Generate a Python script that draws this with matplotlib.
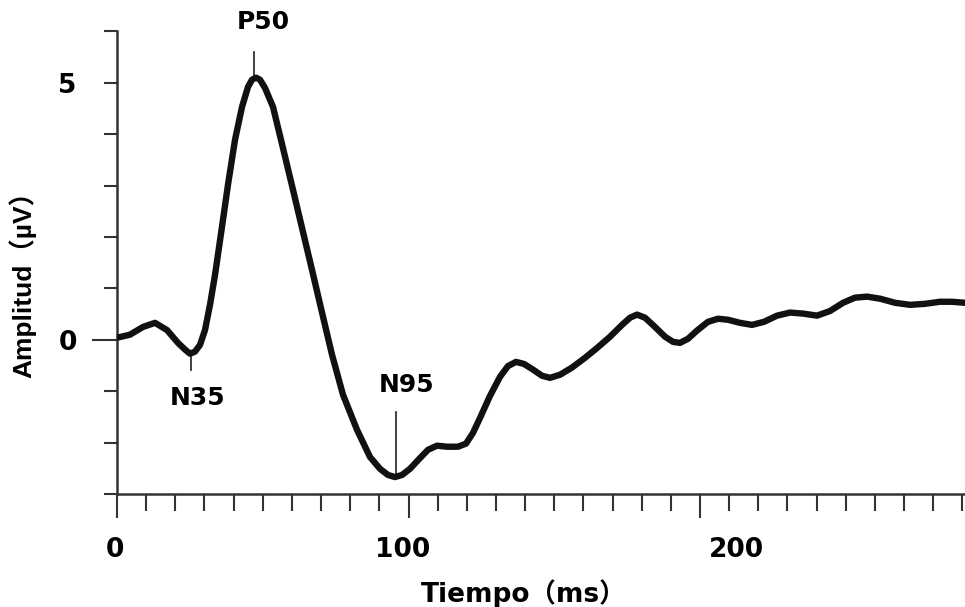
import numpy as np
import matplotlib
matplotlib.use('Agg')
import matplotlib.pyplot as plt
import matplotlib.transforms as mtransforms

# waveform (ms, uV)
t_ms = [0.00, 4.46, 8.92, 13.04, 17.15, 20.93, 23.33, 25.04, 26.76, 28.47,
        30.19, 31.90, 33.62, 36.02, 38.08, 40.48, 42.88, 44.94, 46.31, 47.68,
        49.06, 50.77, 53.52, 56.60, 60.03, 63.46, 66.90, 70.33, 73.76, 77.53,
        82.33, 86.79, 90.22, 92.97, 95.37, 97.77, 100.51, 103.95, 106.69,
        109.78, 113.21, 116.98, 119.73, 122.13, 124.53, 127.96, 131.39,
        134.13, 136.88, 139.62, 142.71, 145.80, 148.54, 151.97, 156.09,
        160.55, 164.67, 169.13, 173.24, 175.99, 178.39, 181.13, 184.56,
        187.99, 190.74, 193.14, 195.88, 198.97, 202.74, 206.17, 209.61,
        213.72, 217.84, 221.96, 226.42, 230.87, 235.33, 240.14, 244.60,
        249.06, 253.17, 257.29, 261.75, 266.90, 272.04, 277.19, 282.33,
        286.45, 290.91]
amp_uv = [0.04, 0.10, 0.25, 0.33, 0.19, -0.06, -0.19, -0.27, -0.23, -0.10,
          0.19, 0.68, 1.26, 2.20, 3.02, 3.89, 4.53, 4.92, 5.06, 5.10,
          5.06, 4.90, 4.53, 3.81, 3.00, 2.18, 1.36, 0.53, -0.29, -1.07,
          -1.75, -2.28, -2.51, -2.63, -2.67, -2.63, -2.51, -2.30, -2.14,
          -2.06, -2.08, -2.08, -2.02, -1.81, -1.52, -1.09, -0.72,
          -0.51, -0.43, -0.47, -0.58, -0.70, -0.74, -0.68, -0.54,
          -0.35, -0.16, 0.06, 0.29, 0.43, 0.49, 0.43, 0.25,
          0.06, -0.04, -0.06, 0.02, 0.18, 0.35, 0.41, 0.39,
          0.33, 0.29, 0.35, 0.47, 0.53, 0.51, 0.47, 0.56,
          0.72, 0.82, 0.84, 0.80, 0.72, 0.68, 0.70, 0.74,
          0.74, 0.72]

# component labels
peak_names = ['N35', 'P50', 'N95']
peak_ms = [25.4, 47.0, 95.7]
peak_line_end = [-0.58, 5.60, -1.40]
peak_text_pos = [(27.8, -1.13), (50.1, 6.19), (99.5, -0.88)]

xtick_vals = [0, 100, 200]

ink = '#111111'
axc = '#333333'

fig = plt.figure(figsize=(9.65, 6.07), dpi=100)
ax = fig.add_axes([117 / 965, 113 / 607, 848 / 965, 462.6 / 607])

ax.plot(t_ms, amp_uv, color=ink, lw=4.6, solid_capstyle='round',
        solid_joinstyle='round', zorder=3)

for name, ms, yend, (tx, ty) in zip(peak_names, peak_ms, peak_line_end,
                                    peak_text_pos):
    ycurve = np.interp(ms, t_ms, amp_uv)
    ax.plot([ms, ms], [ycurve, yend], color=axc, lw=1.3, zorder=2)
    ax.text(tx, ty, name, ha='center', va='center', fontsize=18,
            fontweight='bold', color='black', clip_on=False)

ax.set_xlim(0, 290.9)
ax.set_ylim(-3, 6)

for s in ['top', 'right']:
    ax.spines[s].set_visible(False)
for s in ['left', 'bottom']:
    ax.spines[s].set_color(axc)
    ax.spines[s].set_linewidth(1.8)

ax.set_xticks(xtick_vals)
ax.set_xticklabels([str(v) for v in xtick_vals])
ax.set_xticks(np.arange(0, 291, 10), minor=True)

# y: long tick at 0 (major), short ticks every 1 uV, only 5 labelled
ax.set_yticks([0])
ax.set_yticklabels(['0'])
ymin_ticks = np.arange(-3, 7, 1)
ax.set_yticks(ymin_ticks, minor=True)
ax.set_yticklabels(['5' if v == 5 else '' for v in ymin_ticks], minor=True)

ax.tick_params(axis='x', which='major', length=17, width=1.5, color=axc,
               pad=14, labelsize=19)
ax.tick_params(axis='x', which='minor', length=12, width=1.5, color=axc)
ax.tick_params(axis='y', which='major', length=18, width=1.5, color=axc,
               pad=10.5, labelsize=19)
ax.tick_params(axis='y', which='minor', length=9.4, width=1.5, color=axc,
               pad=19.5, labelsize=19)

for lab in (ax.get_xticklabels() + ax.get_yticklabels() +
            ax.get_yticklabels(minor=True)):
    lab.set_fontweight('bold')

# shift x tick labels like in the original figure
for lab, dx in zip(ax.get_xticklabels(), [-2, -6, 36]):
    lab.set_transform(lab.get_transform() +
                      mtransforms.ScaledTranslation(dx / 100, 0,
                                                    fig.dpi_scale_trans))

fig.text(524 / 965, 1 - 594 / 607, 'Tiempo（ms）', ha='center', va='center',
         fontsize=19, fontweight='bold',
         family=['DejaVu Sans', 'Noto Sans CJK SC'])
fig.text(22 / 965, 1 - 278 / 607, 'Amplitud（µV）', ha='center', va='center',
         rotation=90, fontsize=19, fontweight='bold',
         family=['Liberation Sans', 'Noto Sans CJK SC'])

fig.savefig('out.png', dpi=100)
